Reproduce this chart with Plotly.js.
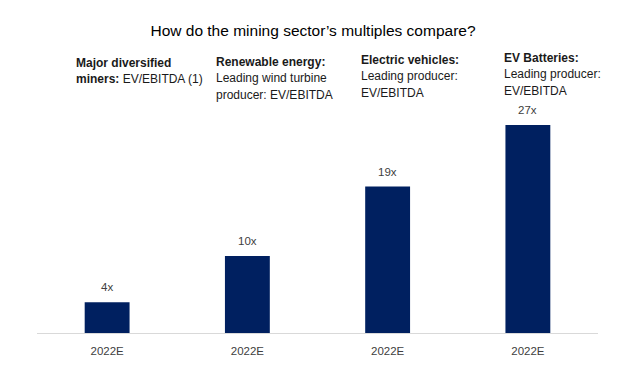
<!DOCTYPE html>
<html><head><meta charset="utf-8">
<script src="https://cdn.plot.ly/plotly-3.0.1.min.js"></script>
<style>body{margin:0;}#c{width:626px;height:367px;}</style>
</head><body><div id="c"></div>
<script>
const categories = ["Major diversified miners", "Renewable energy", "Electric vehicles", "EV Batteries"];
const tickLabels = ["2022E", "2022E", "2022E", "2022E"];
const values = [4, 10, 19, 27];
const valueLabels = ["4x", "10x", "19x", "27x"];
const headerLines = [
  ["<b>Major diversified</b>", "<b>miners:</b> EV/EBITDA (1)"],
  ["<b>Renewable energy:</b>", "Leading wind turbine", "producer: EV/EBITDA"],
  ["<b>Electric vehicles:</b>", "Leading producer:", "EV/EBITDA"],
  ["<b>EV Batteries:</b>", "Leading producer:", "EV/EBITDA"]
];

const font = "Liberation Sans, Arial, sans-serif";
const plotTop = 118;
const firstLineY = [63, 62, 60, 58];
const lineStep = 16.3;
const xShifts = [-33, -33, -29, -26];

const annotations = [];
headerLines.forEach((lines, i) => {
  lines.forEach((t, j) => {
    annotations.push({
      x: i, xref: "x", y: 1, yref: "paper",
      xanchor: "left", yanchor: "middle",
      xshift: xShifts[i], yshift: plotTop - (firstLineY[i] + j * lineStep),
      align: "left", showarrow: false, text: t,
      font: {family: font, size: 12, color: "#1a1a1a"}
    });
  });
});
values.forEach((v, i) => {
  annotations.push({
    x: i, xref: "x", y: v, yref: "y", xanchor: "center", yanchor: "bottom",
    yshift: 7, showarrow: false, text: valueLabels[i],
    font: {family: font, size: 11.5, color: "#404040"}
  });
});

Plotly.newPlot("c", [{
  type: "bar",
  x: [0, 1, 2, 3],
  y: values,
  marker: {color: "#002060"},
  width: 0.32,
  hoverinfo: "none"
}], {
  width: 626, height: 367,
  margin: {l: 37, r: 28, t: plotTop, b: 34},
  paper_bgcolor: "#fff", plot_bgcolor: "#fff",
  showlegend: false,
  title: {text: "How do the mining sector’s multiples compare?", x: 0.5, xanchor: "center", y: 0.918, yanchor: "middle",
          font: {family: font, size: 15.5, color: "#000"}},
  xaxis: {
    tickmode: "array", tickvals: [0, 1, 2, 3], ticktext: tickLabels,
    range: [-0.5, 3.5], showgrid: false, zeroline: false,
    showline: true, linecolor: "#d9d9d9", linewidth: 1,
    ticks: "", ticklen: 0, ticklabelstandoff: 7,
    tickfont: {family: font, size: 11.5, color: "#404040"}
  },
  yaxis: {range: [0, 27.9], visible: false, showgrid: false, zeroline: false},
  annotations: annotations
}, {staticPlot: true});
</script></body></html>
